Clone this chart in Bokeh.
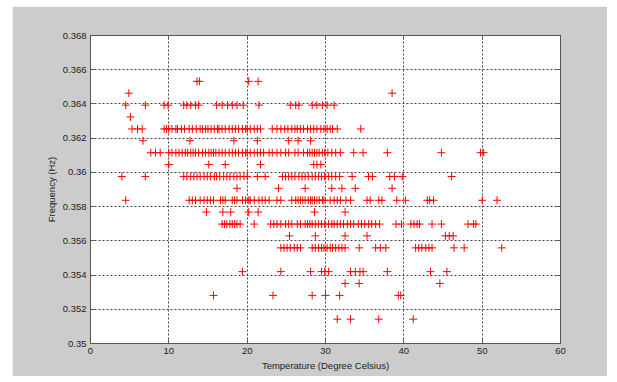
from bokeh.plotting import figure
from bokeh.models import FixedTicker, PrintfTickFormatter, LinearAxis, Range1d, ColumnDataSource
from bokeh.embed import file_html
from bokeh.resources import INLINE

# Measured resonance frequency (Hz) against ambient temperature (deg C).
# The frequency estimates are quantised, so each list holds the temperatures
# observed at one frequency level.
freq_levels = [0.36532, 0.36463, 0.36393, 0.36324, 0.36254, 0.36185, 0.36115,
               0.36046, 0.35976, 0.35907, 0.35837, 0.35768, 0.35698, 0.35629,
               0.35559, 0.35420, 0.35351, 0.35281, 0.35142]

t_36532 = [13.6, 13.9, 20.2, 21.4]
t_36463 = [4.9, 38.5]
t_36393 = [4.5, 7.0, 9.4, 9.9, 11.9, 12.3, 12.8, 13.4, 13.8, 16.1, 16.8, 17.5, 18.1,
           18.7, 19.5, 21.5, 25.5, 26.2, 26.6, 28.3, 28.9, 29.6, 30.2, 31.1]
t_36324 = [5.1]
t_36254 = [5.3, 6.0, 6.6, 9.4, 9.7, 10.0, 10.4, 10.9, 11.1, 11.6, 12.0, 12.6, 13.0,
           13.5, 14.0, 14.3, 14.7, 15.0, 15.4, 15.8, 16.2, 16.4, 16.8, 17.2, 17.7,
           18.1, 18.5, 18.9, 19.4, 19.8, 20.0, 20.4, 20.9, 21.3, 21.7, 23.2, 23.8,
           24.3, 24.8, 25.2, 25.7, 26.1, 26.4, 26.8, 27.2, 27.7, 28.1, 28.5, 28.9,
           29.4, 29.8, 30.2, 30.6, 30.9, 31.5, 34.5]
t_36185 = [6.7, 12.7, 18.3, 21.3, 25.3, 26.5, 28.1]
t_36115 = [7.7, 8.3, 8.9, 10.0, 10.4, 10.9, 11.3, 11.7, 12.1, 12.4, 12.8, 13.1, 13.4,
           13.8, 14.3, 14.7, 15.1, 15.4, 15.7, 16.0, 16.4, 16.8, 17.2, 17.7, 18.1,
           18.5, 18.9, 19.4, 19.8, 20.0, 20.4, 20.9, 21.3, 21.7, 22.1, 22.8, 23.2,
           23.8, 24.3, 24.9, 25.3, 26.1, 26.5, 27.2, 27.7, 28.0, 28.3, 28.6, 28.9,
           29.2, 29.6, 29.9, 30.3, 30.8, 31.3, 31.9, 33.6, 34.8, 37.9, 44.8, 49.8, 50.2]
t_36046 = [10.0, 15.1, 17.2, 21.7, 28.5, 28.9, 29.4]
t_35976 = [4.0, 7.0, 11.9, 12.3, 12.8, 13.2, 13.6, 14.0, 14.5, 14.9, 15.3, 15.8, 16.1,
           16.5, 17.0, 17.4, 17.8, 18.3, 18.7, 19.1, 19.6, 20.0, 21.3, 22.3, 24.5,
           24.9, 25.3, 25.7, 26.1, 26.6, 27.0, 27.4, 27.8, 28.3, 28.7, 29.1, 29.5,
           29.9, 30.4, 30.8, 31.3, 31.8, 33.4, 35.5, 36.0, 38.2, 38.8, 39.8, 46.1]
t_35907 = [18.7, 24.0, 27.4, 30.8, 32.1, 33.8, 38.5]
t_35837 = [4.5, 12.6, 13.0, 13.4, 14.0, 14.5, 14.9, 15.3, 15.7, 16.6, 16.9, 17.2, 18.1,
           18.4, 18.7, 19.4, 19.8, 20.2, 20.4, 20.9, 21.5, 21.9, 22.3, 22.8, 23.8,
           24.3, 25.7, 26.2, 26.5, 26.8, 27.1, 27.4, 27.8, 28.1, 28.3, 28.6, 28.9,
           29.2, 29.6, 29.8, 30.6, 31.1, 31.5, 31.9, 32.6, 33.2, 35.3, 35.7, 36.8,
           37.2, 39.1, 40.2, 43.0, 43.3, 43.8, 50.0, 51.9]
t_35768 = [14.8, 16.9, 17.9, 20.2, 21.4, 28.6, 32.5]
t_35698 = [16.8, 17.1, 17.4, 17.8, 18.1, 18.4, 18.7, 19.1, 20.9, 23.0, 23.4, 23.8,
           24.3, 24.9, 25.3, 25.7, 26.4, 26.8, 27.4, 27.7, 28.0, 28.3, 28.7, 29.1,
           29.5, 29.9, 30.4, 30.8, 31.1, 31.5, 31.9, 32.3, 32.8, 33.2, 33.6, 34.2,
           34.6, 35.0, 35.5, 35.9, 36.4, 36.9, 39.0, 39.7, 40.9, 41.3, 41.7, 42.0,
           43.6, 44.8, 48.2, 48.9, 49.2]
t_35629 = [25.4, 28.7, 32.5, 35.3, 45.3, 45.8, 46.3]
t_35559 = [24.3, 24.7, 25.1, 25.5, 26.0, 26.4, 26.8, 28.3, 28.7, 29.1, 29.5, 29.8,
           30.2, 30.6, 30.9, 31.3, 31.7, 32.1, 32.5, 34.3, 36.4, 37.0, 37.7, 41.5,
           41.9, 42.3, 42.8, 43.2, 43.6, 46.4, 47.7, 52.5]
t_35420 = [19.4, 24.3, 28.1, 29.5, 29.9, 30.4, 33.2, 33.8, 34.4, 34.8, 37.9, 43.4, 45.5]
t_35351 = [32.5, 34.3, 44.6]
t_35281 = [15.7, 23.3, 28.3, 30.0, 31.8, 39.3, 39.6]
t_35142 = [31.5, 33.2, 36.8, 41.2]

temps_by_level = [t_36532, t_36463, t_36393, t_36324, t_36254, t_36185, t_36115,
                  t_36046, t_35976, t_35907, t_35837, t_35768, t_35698, t_35629,
                  t_35559, t_35420, t_35351, t_35281, t_35142]

x_ticks = [0, 10, 20, 30, 40, 50, 60]
y_ticks = [0.35, 0.352, 0.354, 0.356, 0.358, 0.36, 0.362, 0.364, 0.366, 0.368]

temperature = []
frequency = []
for level, temps in zip(freq_levels, temps_by_level):
    temperature.extend(temps)
    frequency.extend([level] * len(temps))

source = ColumnDataSource(data=dict(temperature=temperature, frequency=frequency))

FONT = "Liberation Sans"
TEXT = "#222222"
AXIS = "#555555"

p = figure(width=595, height=370, output_backend="svg", toolbar_location=None,
           x_range=Range1d(0, 60), y_range=Range1d(0.35, 0.368),
           min_border_left=78, min_border_right=47, min_border_top=29,
           min_border_bottom=33, border_fill_color="#cccccc",
           background_fill_color="white", outline_line_color=AXIS)
p.margin = (6, 10, 6, 12)

p.scatter("temperature", "frequency", source=source, marker="cross", size=8,
          line_color="#ff0000", line_width=1)

p.xaxis.ticker = FixedTicker(ticks=x_ticks)
p.yaxis.ticker = FixedTicker(ticks=y_ticks)
p.xaxis.formatter = PrintfTickFormatter(format="%g")
p.yaxis.formatter = PrintfTickFormatter(format="%g")
p.xaxis.axis_label = "Temperature (Degree Celsius)"
p.yaxis.axis_label = "Frequency (Hz)"

for ax in (p.xaxis[0], p.yaxis[0]):
    ax.major_label_text_font = FONT
    ax.major_label_text_font_size = "9.5px"
    ax.major_label_text_color = TEXT
    ax.axis_label_text_font = FONT
    ax.axis_label_text_font_size = "9.5px"
    ax.axis_label_text_font_style = "normal"
    ax.axis_label_text_color = TEXT
    ax.axis_line_color = AXIS
    ax.major_tick_line_color = AXIS
    ax.major_tick_in = 4
    ax.major_tick_out = 0
    ax.minor_tick_line_color = None
    ax.major_label_standoff = 4
    ax.axis_label_standoff = 3

# tick marks on the opposite sides of the box, without labels
for loc, ticks in (("above", x_ticks), ("right", y_ticks)):
    box_axis = LinearAxis(ticker=FixedTicker(ticks=ticks),
                          major_label_text_color=None,
                          axis_line_color=AXIS, major_tick_line_color=AXIS,
                          major_tick_in=4, major_tick_out=0,
                          minor_tick_line_color=None)
    p.add_layout(box_axis, loc)

p.grid.grid_line_color = "#444444"
p.grid.grid_line_dash = "2 2"
p.grid.grid_line_width = 1

open("out.html", "w").write(file_html(p, INLINE))
